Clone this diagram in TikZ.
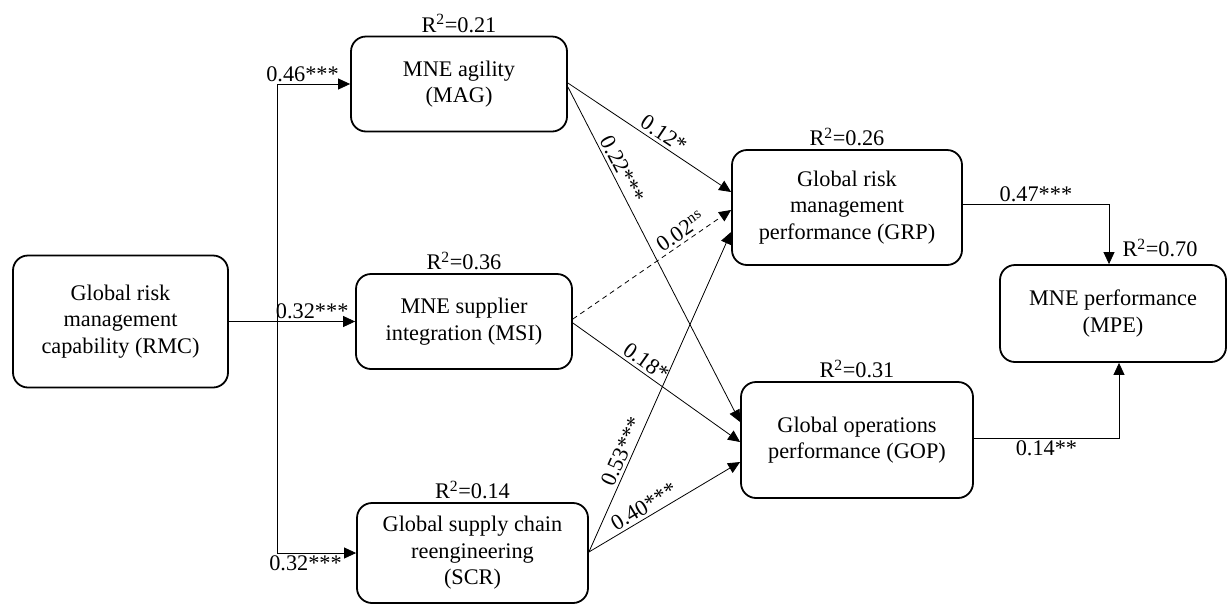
\documentclass[tikz,border=0pt]{standalone}
\usepackage{fontspec}
\setmainfont{Liberation Serif}
\usetikzlibrary{arrows.meta,positioning}
\begin{document}
\begin{tikzpicture}[x=1pt,y=-1pt,
  box/.style={draw, line width=1.8pt, rounded corners=15pt, align=center, inner sep=2pt, font=\fontsize{22.3}{26.5}\selectfont},
  arr/.style={line width=0.8pt, -{Triangle[length=12pt,width=11pt]}},
  lab/.style={font=\fontsize{22.3}{26.5}\selectfont, inner sep=2pt},
  elab/.style={lab, sloped, above, inner sep=3pt},
]
\useasboundingbox (0,0) rectangle (1227,606);

\node[box, minimum width=215pt, minimum height=132pt] (RMC) at (120.5,321.5) {Global risk\\management\\capability (RMC)};
\node[box, minimum width=216pt, minimum height=95pt] (MAG) at (459,84) {MNE agility\\(MAG)};
\node[box, minimum width=216pt, minimum height=95pt] (MSI) at (464,321.5) {MNE supplier\\integration (MSI)};
\node[box, minimum width=231pt, minimum height=100pt] (SCR) at (472.5,553) {Global supply chain\\reengineering\\(SCR)};
\node[box, minimum width=230pt, minimum height=115pt] (GRP) at (847,207.5) {Global risk\\management\\performance (GRP)};
\node[box, minimum width=232pt, minimum height=116pt] (GOP) at (857,440) {Global operations\\performance (GOP)};
\node[box, minimum width=226pt, minimum height=97pt] (MPE) at (1113,313.5) {MNE performance\\(MPE)};

\node[lab, above=1pt of MAG] (rMAG) {R\textsuperscript{2}=0.21};
\node[lab, above=1pt of MSI] (rMSI) {R\textsuperscript{2}=0.36};
\node[lab, above=1pt of SCR] (rSCR) {R\textsuperscript{2}=0.14};
\node[lab, above=1pt of GRP] (rGRP) {R\textsuperscript{2}=0.26};
\node[lab, above=1pt of GOP] (rGOP) {R\textsuperscript{2}=0.31};
\node[lab] (rMPE) at (1160,248) {R\textsuperscript{2}=0.70};

\coordinate (jt) at (277,321.5);
\draw[arr] (RMC.east) -- node[lab,above,pos=0.66]{0.32***} (MSI.west);
\draw[arr] (jt) |- node[lab,above,pos=0.75,xshift=-11pt]{0.46***} (MAG.west);
\draw[arr] (jt) |- node[lab,below,pos=0.75,xshift=-11pt]{0.32***} (SCR.west);

\draw[arr] ([yshift=1pt]MAG.east) -- node[elab,pos=0.55]{0.12*} ([yshift=15.5pt]GRP.west);
\draw[arr] ([yshift=-3pt]MAG.east) -- node[elab,pos=0.26]{0.22***} ([yshift=18pt]GOP.west);
\draw[arr,dash pattern=on 5pt off 4pt] ([yshift=2.5pt]MSI.east) -- node[elab,pos=0.72]{0.02\textsuperscript{ns}} ([yshift=-2.5pt]GRP.west);
\draw[arr] ([yshift=-1.5pt]MSI.east) -- node[elab,pos=0.4]{0.18*} ([yshift=-2pt]GOP.west);
\draw[arr] ([yshift=1pt]SCR.east) -- node[elab,pos=0.3]{0.53***} ([yshift=-24.5pt]GRP.west);
\draw[arr] ([yshift=1pt]SCR.east) -- node[elab,pos=0.4]{0.40***} ([yshift=-22pt]GOP.west);

\draw[arr] ([yshift=3pt]GRP.east) -| node[lab,above,pos=0.25]{0.47***} ([xshift=-4pt]MPE.north);
\draw[arr] ([yshift=2pt]GOP.east) -| node[lab,below,pos=0.25]{0.14**} ([xshift=6pt]MPE.south);
\end{tikzpicture}
\end{document}
